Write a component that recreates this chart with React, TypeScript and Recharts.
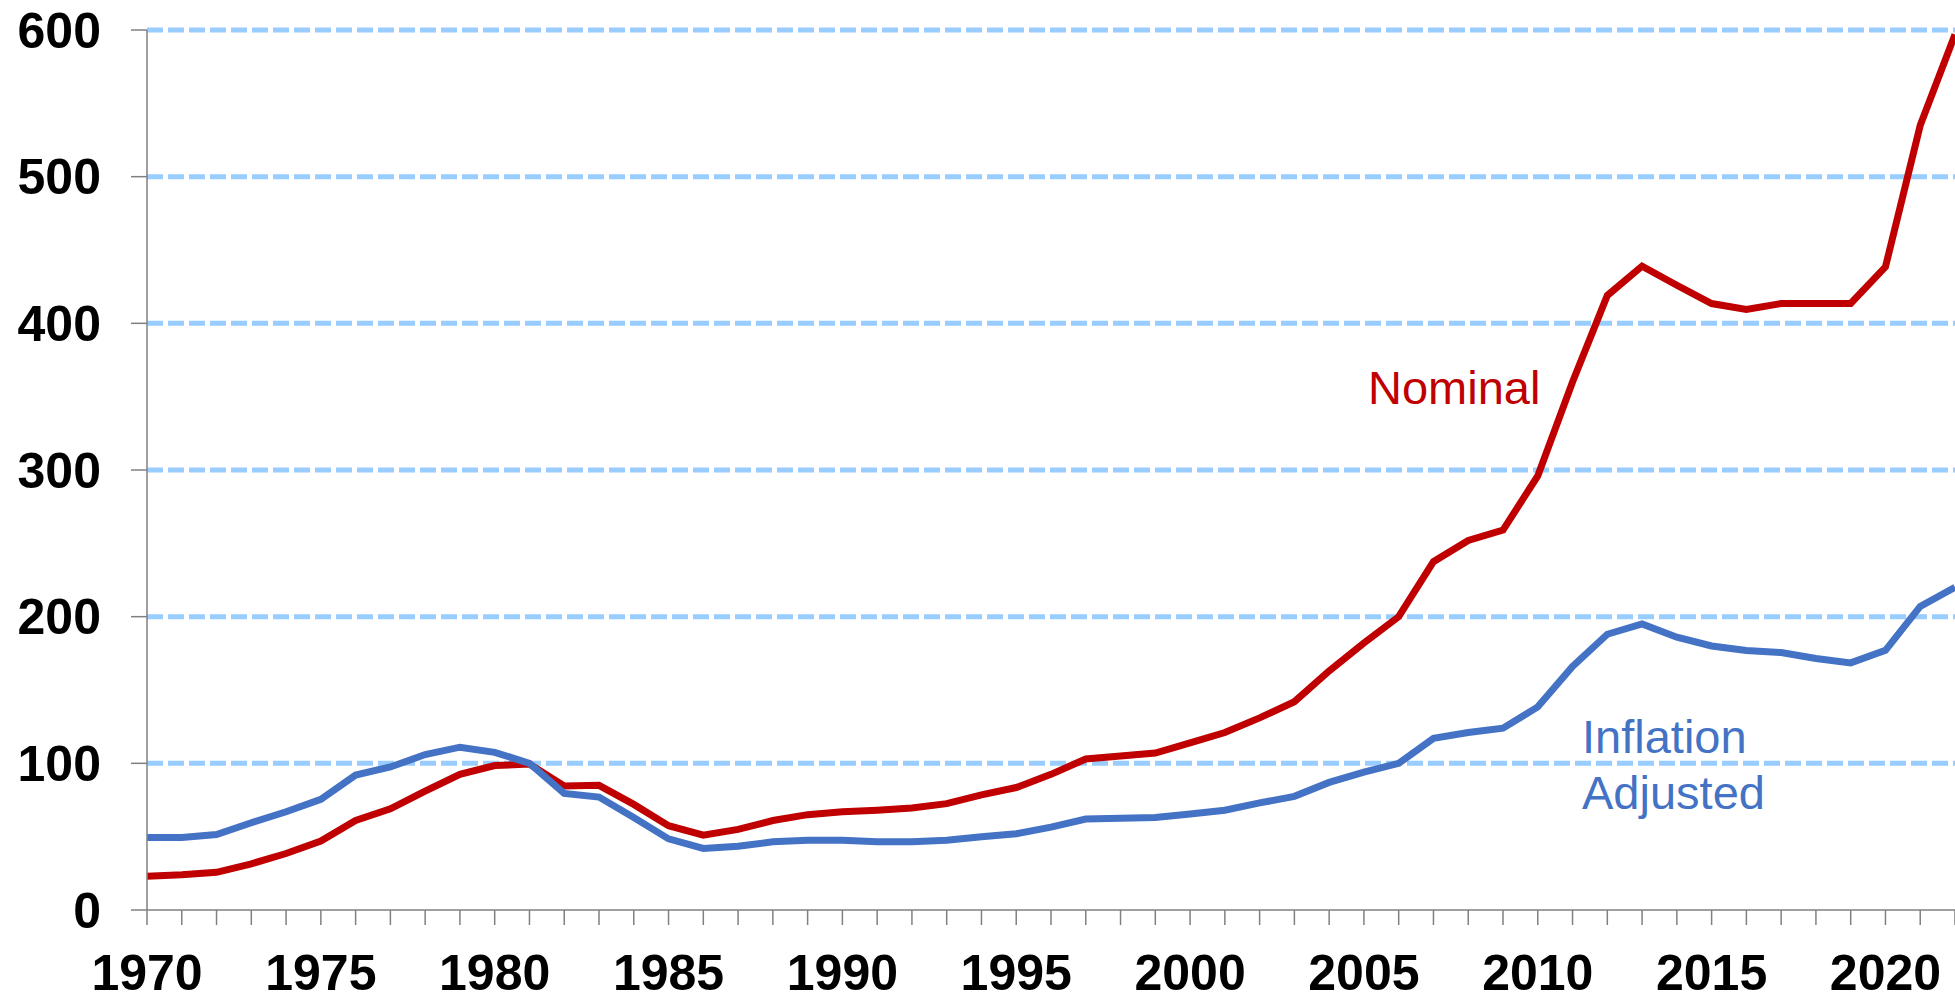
import React from 'react';
import { LineChart, Line, XAxis, YAxis, CartesianGrid } from 'recharts';

const years = [
  1970, 1971, 1972, 1973, 1974, 1975, 1976, 1977, 1978, 1979,
  1980, 1981, 1982, 1983, 1984, 1985, 1986, 1987, 1988, 1989,
  1990, 1991, 1992, 1993, 1994, 1995, 1996, 1997, 1998, 1999,
  2000, 2001, 2002, 2003, 2004, 2005, 2006, 2007, 2008, 2009,
  2010, 2011, 2012, 2013, 2014, 2015, 2016, 2017, 2018, 2019,
  2020, 2021, 2022,
];

const nominal = [
  23, 24, 25.7, 31.5, 38.5, 47, 61, 69, 81, 92.5,
  98.5, 99.5, 84.5, 85, 72, 57.5, 51, 55, 61, 65,
  67, 68, 69.5, 72.5, 78.5, 83.5, 92.5, 103, 105, 107,
  114, 121, 131, 142, 163, 182, 200, 237.5, 252, 259,
  296, 360, 419, 439, 426, 413.5, 409.5, 413.5, 413.5, 413.5,
  438.5, 535, 597,
];

const inflationAdjusted = [
  49.5, 49.5, 51.5, 59.5, 67, 75.5, 92, 97.5, 106, 111,
  107.5, 100, 79.5, 77, 63, 48.5, 42, 43.5, 46.5, 47.5,
  47.5, 46.5, 46.5, 47.5, 50, 52, 56.5, 62, 62.5, 63,
  65.5, 68, 73, 77.5, 87, 94, 100, 117, 121, 124,
  138.5, 166, 188, 195, 186, 180, 177, 175.5, 171.5, 168.5,
  177, 207, 220,
];

const yTicks = [0, 100, 200, 300, 400, 500, 600];
const gridValues = [100, 200, 300, 400, 500, 600];

const data = years.map((year, i) => ({
  year,
  nominal: nominal[i],
  adjusted: inflationAdjusted[i],
}));

const tickFont = {
  fill: '#000',
  fontSize: 50,
  fontWeight: 700,
  fontFamily: '"Liberation Sans", Arial, sans-serif',
};

export default function App() {
  return (
    <div style={{ position: 'absolute', left: 0, top: 0, width: 1955, height: 994, background: '#fff' }}>
      <LineChart
        width={1955}
        height={994}
        data={data}
        margin={{ top: 30, right: 0, bottom: 0, left: 0 }}
      >
        <CartesianGrid
          vertical={false}
          horizontalValues={gridValues}
          stroke="#99CCFF"
          strokeWidth={5}
          strokeDasharray="16 5"
        />
        <XAxis
          dataKey="year"
          type="number"
          domain={[1970, 2022]}
          ticks={years}
          interval={0}
          height={84}
          tickSize={15}
          tickMargin={29}
          stroke="#808080"
          strokeWidth={1.5}
          tick={tickFont}
          tickFormatter={(v: number) => (v % 5 === 0 ? String(v) : '')}
        />
        <YAxis
          type="number"
          domain={[0, 600]}
          ticks={yTicks}
          width={147}
          tickSize={16}
          tickMargin={30}
          stroke="#808080"
          strokeWidth={1.5}
          tick={tickFont}
        />
        <Line
          type="linear"
          dataKey="nominal"
          stroke="#C00000"
          strokeWidth={7}
          dot={false}
          isAnimationActive={false}
        />
        <Line
          type="linear"
          dataKey="adjusted"
          stroke="#4472C4"
          strokeWidth={7}
          dot={false}
          isAnimationActive={false}
        />
      </LineChart>
      <svg
        width={1955}
        height={994}
        style={{ position: 'absolute', left: 0, top: 0, pointerEvents: 'none' }}
      >
        <g fontFamily='"Liberation Sans", Arial, sans-serif' fontSize={47}>
          <text x={1368} y={404} fill="#C00000">Nominal</text>
          <text x={1582} y={753} fill="#4472C4">Inflation</text>
          <text x={1582} y={809} fill="#4472C4">Adjusted</text>
        </g>
      </svg>
    </div>
  );
}
